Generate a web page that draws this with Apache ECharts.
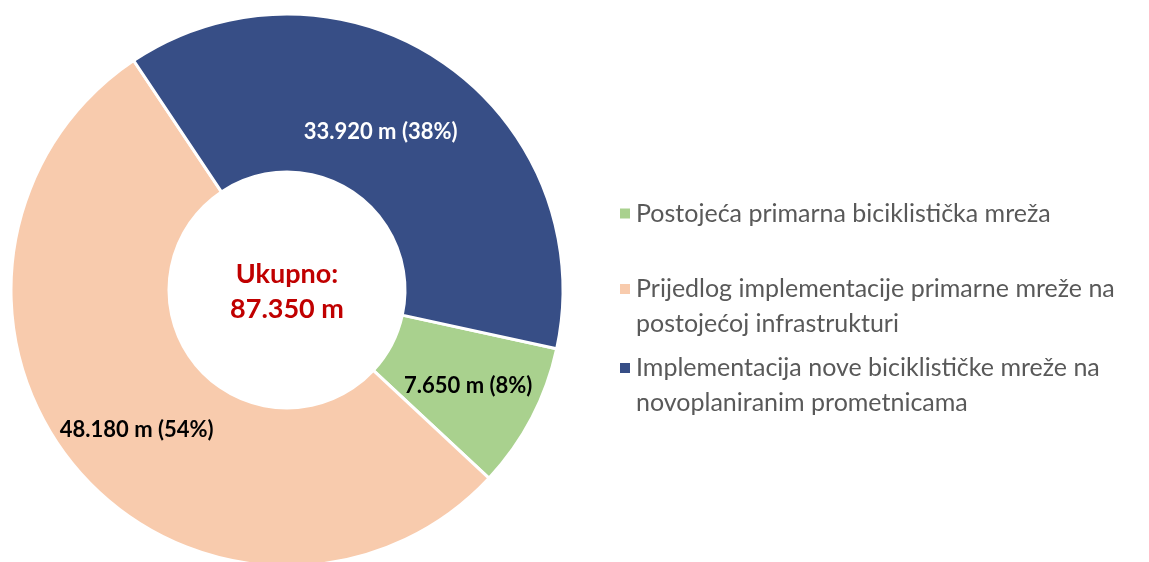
<!DOCTYPE html>
<html>
<head>
<meta charset="utf-8">
<script src="https://cdn.jsdelivr.net/npm/echarts@6/dist/echarts.min.js"></script>
<style>
  html, body { margin: 0; padding: 0; background: #fff; }
  #chart { width: 1149px; height: 562px; }
</style>
</head>
<body>
<div id="chart"></div>
<script>
// podaci
var names = [
  'Postojeća primarna biciklistička mreža',
  'Prijedlog implementacije primarne mreže na\npostojećoj infrastrukturi',
  'Implementacija nove biciklističke mreže na\nnovoplaniranim prometnicama'
];
var values = [7650, 48180, 33920];
var percents = [8, 54, 38];
var colors = ['#A9D18E', '#F8CBAD', '#374E86'];
var totalText = 'Ukupno:\n87.350 m';

var FONT = 'Lato, "Open Sans", sans-serif';

function fmt(n) {
  return String(n).replace(/\B(?=(\d{3})+(?!\d))/g, '.');
}

// boja i pomak natpisa po kriški
var labelColors = ['#000', '#000', '#fff'];
var labelOffsets = [[4, 3], [2, 10], [-19, 7]];

var seriesData = values.map(function (v, i) {
  return {
    name: names[i],
    value: v,
    itemStyle: { color: colors[i] },
    label: { color: labelColors[i], offset: labelOffsets[i] }
  };
});

var myChart = echarts.init(document.getElementById('chart'));

var legendText = { fontFamily: FONT, fontSize: 25, color: '#595959', lineHeight: 35 };

var option = {
  animation: false,
  backgroundColor: '#fff',
  legend: [
    {
      orient: 'vertical',
      left: 613,
      top: 191,
      itemWidth: 12,
      itemHeight: 12,
      itemGap: 10,
      icon: 'rect',
      data: [names[0]],
      textStyle: legendText
    },
    {
      orient: 'vertical',
      left: 613,
      top: 265,
      itemWidth: 12,
      itemHeight: 70,
      itemGap: 7,
      icon: 'path://M0,0M0,12H12V24H0ZM0,70',
      data: [names[1], names[2]],
      textStyle: legendText
    }
  ],
  graphic: [
    {
      type: 'text',
      x: 287,
      y: 292,
      style: {
        text: totalText,
        fill: '#C00000',
        font: 'bold 27px ' + FONT,
        align: 'center',
        verticalAlign: 'middle',
        lineHeight: 35
      }
    }
  ],
  series: [
    {
      type: 'pie',
      center: [287, 290],
      radius: [118, 276],
      startAngle: -12.3,
      clockwise: true,
      legendHoverLink: false,
      itemStyle: { borderColor: '#fff', borderWidth: 3 },
      label: {
        show: true,
        position: 'inside',
        fontFamily: FONT,
        fontWeight: 'bold',
        fontSize: 22,
        formatter: function (p) {
          return fmt(p.value) + ' m (' + percents[p.dataIndex] + '%)';
        }
      },
      labelLine: { show: false },
      data: seriesData
    }
  ]
};
myChart.setOption(option);
</script>
</body>
</html>
